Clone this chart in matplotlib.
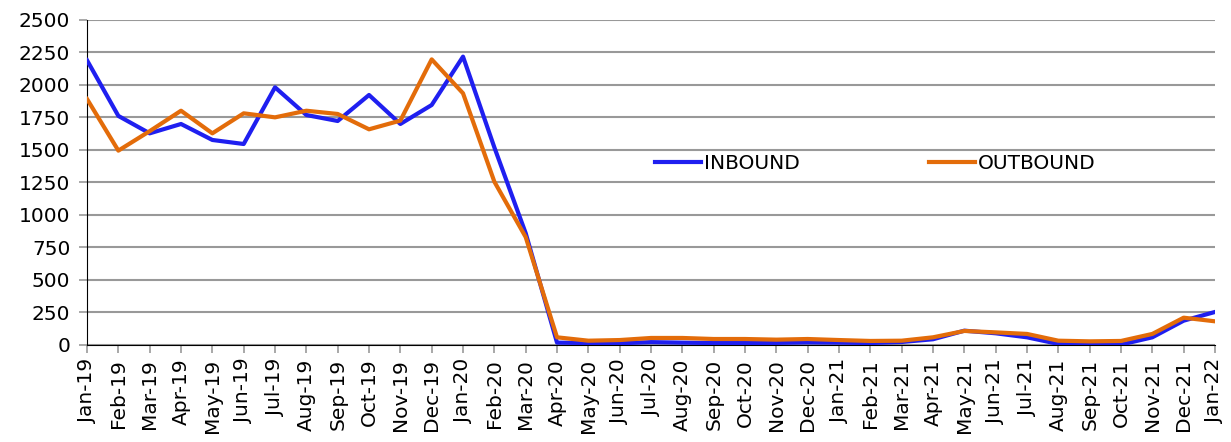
import matplotlib
matplotlib.use("Agg")
from matplotlib import pyplot as plt

months = ["Jan-19", "Feb-19", "Mar-19", "Apr-19", "May-19", "Jun-19", "Jul-19", "Aug-19",
          "Sep-19", "Oct-19", "Nov-19", "Dec-19", "Jan-20", "Feb-20", "Mar-20", "Apr-20",
          "May-20", "Jun-20", "Jul-20", "Aug-20", "Sep-20", "Oct-20", "Nov-20", "Dec-20",
          "Jan-21", "Feb-21", "Mar-21", "Apr-21", "May-21", "Jun-21", "Jul-21", "Aug-21",
          "Sep-21", "Oct-21", "Nov-21", "Dec-21", "Jan-22"]

inbound = [2190, 1762, 1628, 1700, 1577, 1546, 1982, 1769, 1723, 1923, 1700, 1846, 2218,
           1520, 860, 18, 15, 13, 22, 18, 15, 15, 16, 20, 18, 15, 23, 44, 110, 90, 59,
           8, 3, 3, 59, 187, 254]

outbound = [1892, 1495, 1645, 1802, 1628, 1782, 1751, 1802, 1777, 1659, 1726, 2197, 1936,
            1256, 830, 59, 33, 38, 54, 54, 46, 46, 41, 46, 38, 31, 33, 59, 108, 97, 85,
            33, 28, 31, 85, 210, 182]

plt.rcParams['font.family'] = ['DejaVu Sans']

fig = plt.figure(figsize=(12.31, 4.42), dpi=100)
ax = fig.add_axes([0.0707, 0.2195, 0.9163, 0.7353])

x = list(range(len(months)))
ax.plot(x, inbound, color="#1F1FF0", lw=3, label="INBOUND", zorder=3)
ax.plot(x, outbound, color="#E36C0A", lw=3, label="OUTBOUND", zorder=4)

ax.set_xlim(0, len(months) - 1)
ax.set_ylim(0, 2500)
ax.set_yticks(range(0, 2501, 250))
ax.set_xticks(x)
ax.set_xticklabels(months, rotation=90)

ax.grid(axis="y", color="#999999", lw=1.5)
ax.set_axisbelow(True)
for side in ["top", "right"]:
    ax.spines[side].set_visible(False)
ax.spines["left"].set_color("black")
ax.spines["bottom"].set_color("black")
ax.tick_params(axis="y", colors="#999999", labelcolor="black", length=6, width=1.2,
               labelsize=14.5, pad=6)
ax.tick_params(axis="x", colors="#999999", labelcolor="black", length=6, width=1.2,
               labelsize=14.5, pad=4)

ax.legend(loc="center", bbox_to_anchor=(0.699, 0.557), ncol=2, frameon=False,
          fontsize=14.5, handlelength=2.3, columnspacing=6.4, handletextpad=0.15)

fig.savefig("out.png", dpi=100)
